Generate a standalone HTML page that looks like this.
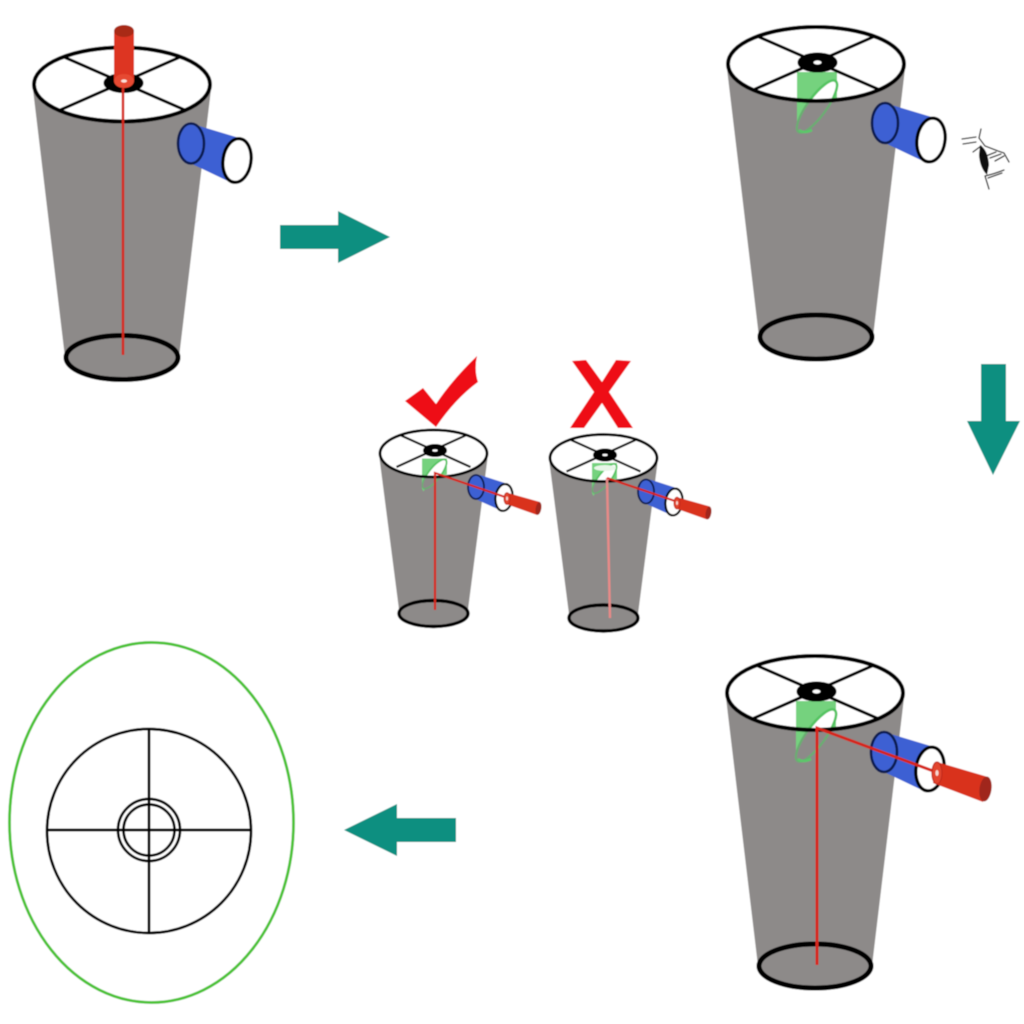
<!DOCTYPE html>
<html><head><meta charset="utf-8"><style>html,body{margin:0;padding:0;background:#fff}svg{display:block}</style></head><body>
<svg width="1024" height="1024" viewBox="0 0 1024 1024" xmlns="http://www.w3.org/2000/svg">
<defs>
<filter id="soft" x="0" y="0" width="100%" height="100%"><feGaussianBlur stdDeviation="0.4"/></filter>
<clipPath id="bigClip"><ellipse cx="0" cy="0" rx="88" ry="37"/></clipPath>
<clipPath id="smClip"><ellipse cx="0" cy="0" rx="53" ry="23"/></clipPath>
<g id="bigBody">
  <polygon points="-89,5 89,5 57,273 -57,273" fill="#8d8a89"/>
  <ellipse cx="0" cy="273" rx="56" ry="22" fill="#8d8a89"/>
  <ellipse cx="0" cy="0" rx="88" ry="37" fill="#fff"/>
</g>
<g id="bigGreen">
  <path d="M-19,8 L21,8 L21,36 L-5,40 L-17,69 L-19,66 Z" fill="#74d27e"/>
  <ellipse cx="1" cy="42.5" rx="9.5" ry="31.5" transform="rotate(36 1 42.5)" fill="#8d8a89" stroke="#6aad72" stroke-width="2.2"/>
  <g clip-path="url(#bigClip)">
    <ellipse cx="1" cy="42.5" rx="9.5" ry="31.5" transform="rotate(36 1 42.5)" fill="#fff" stroke="#55c462" stroke-width="2.6"/>
  </g>
  <path d="M-17,66 Q-12,70 -4,66" fill="none" stroke="#5cc76a" stroke-width="2.6"/>
</g>
<g id="bigTop">
  <g stroke="#000" stroke-width="3"><line x1="-57" y1="-27" x2="64" y2="26"/><line x1="57" y1="-27" x2="-63" y2="26"/></g>
  <ellipse cx="0" cy="0" rx="88" ry="37" fill="none" stroke="#000" stroke-width="4"/>
  <ellipse cx="1.5" cy="-1.5" rx="20" ry="10" fill="#000"/>
  <ellipse cx="0" cy="273" rx="56" ry="22" fill="none" stroke="#000" stroke-width="5"/>
</g>
<g id="bigTube">
  <polygon points="69,39 119,54 111,99 69,79" fill="#3c60d3"/>
  <ellipse cx="69" cy="59" rx="13" ry="20" fill="#3c60d3" stroke="#0b1a50" stroke-width="2.6"/>
  <ellipse cx="115" cy="76" rx="14" ry="22" transform="rotate(8 115 76)" fill="#fff" stroke="#000" stroke-width="3.3"/>
</g>
<g id="smCup">
  <polygon points="-54,5 54,5 34,160 -34,160" fill="#8d8a89"/>
  <ellipse cx="0" cy="160" rx="34.5" ry="13" fill="#8d8a89"/>
  <ellipse cx="0" cy="0" rx="53" ry="23" fill="#fff"/>
  <path d="M-11.5,5 L13.5,5 L13.5,21 L-3,24 L-10,38 L-11.5,35 Z" fill="#74d27e"/>
  <ellipse cx="1" cy="20.5" rx="6" ry="18" transform="rotate(38 1 20.5)" fill="#8d8a89" stroke="#6aad72" stroke-width="1.4"/>
  <g clip-path="url(#smClip)"><ellipse cx="1" cy="20.5" rx="6" ry="18" transform="rotate(38 1 20.5)" fill="#fff" stroke="#55c462" stroke-width="1.8"/></g>
  <g stroke="#000" stroke-width="2.1"><line x1="-33.5" y1="-18.5" x2="37" y2="13.5"/><line x1="33" y1="-18.5" x2="-37" y2="13.5"/></g>
  <ellipse cx="0" cy="0" rx="53.5" ry="23.5" fill="none" stroke="#000" stroke-width="2.8"/>
  <ellipse cx="1.5" cy="-3" rx="12" ry="6.5" fill="#000"/>
  <ellipse cx="1.5" cy="-3" rx="2.6" ry="1.2" fill="#fff"/>
  <ellipse cx="0" cy="160" rx="34.5" ry="13" fill="none" stroke="#000" stroke-width="3.4"/>
  <polygon points="46.5,21.5 74.5,30.5 68.5,57.5 39.5,44.5" fill="#3c60d3"/>
  <ellipse cx="42.5" cy="33.5" rx="8" ry="12" fill="#3c60d3" stroke="#0b1a50" stroke-width="1.8"/>
  <ellipse cx="70.5" cy="44" rx="8.5" ry="13.5" transform="rotate(8 70.5 44)" fill="#fff" stroke="#000" stroke-width="2.2"/>
</g>
<g id="smRed">
  <polygon points="508,493 540,502 537,515 506,504" fill="#d9331f"/>
  <ellipse cx="538.5" cy="508.5" rx="2.8" ry="6.5" transform="rotate(10 538.5 508.5)" fill="#a0281a"/>
  <ellipse cx="507" cy="498.5" rx="3" ry="5.8" fill="#e2452f" stroke="#c22a1a" stroke-width="1"/>
  <ellipse cx="507" cy="498.5" rx="1" ry="2" fill="#f6d8d0"/>
</g>
</defs>

<g filter="url(#soft)">
<rect width="1024" height="1024" fill="#fff"/>
<!-- panel 1 -->
<g transform="translate(122,84.5)">
  <use href="#bigBody"/><use href="#bigTop"/><use href="#bigTube"/>
</g>
<line x1="123" y1="88" x2="123" y2="355" stroke="#d6281c" stroke-width="2.5"/>
<rect x="114" y="31" width="20" height="50" fill="#dd3520"/>
<ellipse cx="124" cy="81" rx="10" ry="7" fill="#e64a30"/>
<ellipse cx="124" cy="31" rx="10" ry="6" fill="#a82a18"/>
<ellipse cx="124" cy="81" rx="3" ry="1.6" fill="#fbe3da"/>

<!-- panel 2 -->
<g transform="translate(816,64)">
  <use href="#bigBody"/><use href="#bigGreen"/><use href="#bigTop"/>
  <ellipse cx="1.5" cy="-1.5" rx="4" ry="2" fill="#fff"/>
  <use href="#bigTube"/>
</g>
<!-- eye -->
<g stroke="#222" stroke-width="1.3" fill="none" stroke-linecap="round">
  <path d="M962,139 L976,137 M963,144 L976,142 M981,129 L979,138 L985,146 L998,151 L1004,153 L1009,162"/>
  <path d="M973,152 L981,146 M986,156 L996,152 M990,158 L1001,154 M995,161 L1004,156"/>
  <path d="M985,176 Q994,174 1004,170 M988,178 L1002,173 M985,176 L989,189"/>
</g>
<path d="M980,145 Q988,150 989,165 L987,175 Q980,168 979,155 Z" fill="#111"/>

<!-- panel 3 -->
<g transform="translate(815,693)">
  <use href="#bigBody"/><use href="#bigGreen"/><use href="#bigTop"/>
  <ellipse cx="1.5" cy="-1.5" rx="4" ry="2" fill="#fff"/>
  <use href="#bigTube"/>
</g>
<g stroke="#d6281c" stroke-width="3" fill="none"><path d="M817,965 L817,728 L936,772"/></g>
<polygon points="937,762 988,777 983,802 933,783" fill="#d9331f"/>
<ellipse cx="985.5" cy="789" rx="6" ry="12.5" transform="rotate(8 985.5 789)" fill="#a0281a"/>
<ellipse cx="937" cy="773" rx="5" ry="11" fill="#e2452f" stroke="#c22a1a" stroke-width="1.2"/>
<ellipse cx="937" cy="773" rx="1.6" ry="3" fill="#f6d8d0"/>

<!-- small cups -->
<use href="#smCup" x="433.5" y="453.5"/>
<path d="M435,610 L435,473 L505,497" fill="none" stroke="#d6281c" stroke-width="2.2"/>
<use href="#smRed"/>
<use href="#smCup" x="603.5" y="458"/>
<ellipse cx="605" cy="468" rx="11" ry="3" fill="#e8f6e8"/>
<path d="M610,618 L607,478" fill="none" stroke="#e88a88" stroke-width="2.4"/>
<path d="M607,478 L675,501" fill="none" stroke="#d6281c" stroke-width="2.2"/>
<use href="#smRed" x="170" y="4.5"/>

<!-- check and X -->
<path d="M405,401 L423,388 L436,404 Q452,380 477,356 Q474,370 478,382 Q455,399 436,427 Z" fill="#ee0c12"/>
<polygon points="572,361 586,360 602,382 616,360 631,361 609,392 633,428 618,428 602,403 584,428 570,428 594,392" fill="#ee0c12"/>

<!-- arrows -->
<polygon points="280,225 338,225 338,211 390,237 338,263 338,249 280,249" fill="#0e8f80"/>
<polygon points="981,364 1006,364 1006,421 1020,421 993,475 967,421 981,421" fill="#0e8f80"/>
<polygon points="456,818 397,818 397,804 344,830 397,856 397,842 456,842" fill="#0e8f80"/>

<!-- target view -->
<ellipse cx="151.5" cy="822.5" rx="142" ry="180" fill="none" stroke="#4cc236" stroke-width="2.8"/>
<g fill="none" stroke="#000" stroke-width="2.7">
  <circle cx="149" cy="831" r="102"/>
  <circle cx="149" cy="830" r="31"/>
  <circle cx="149" cy="830" r="25.5"/>
  <line x1="47" y1="830" x2="251" y2="830"/>
  <line x1="149" y1="729" x2="149" y2="933"/>
</g>
</g>
</svg>
</body></html>
